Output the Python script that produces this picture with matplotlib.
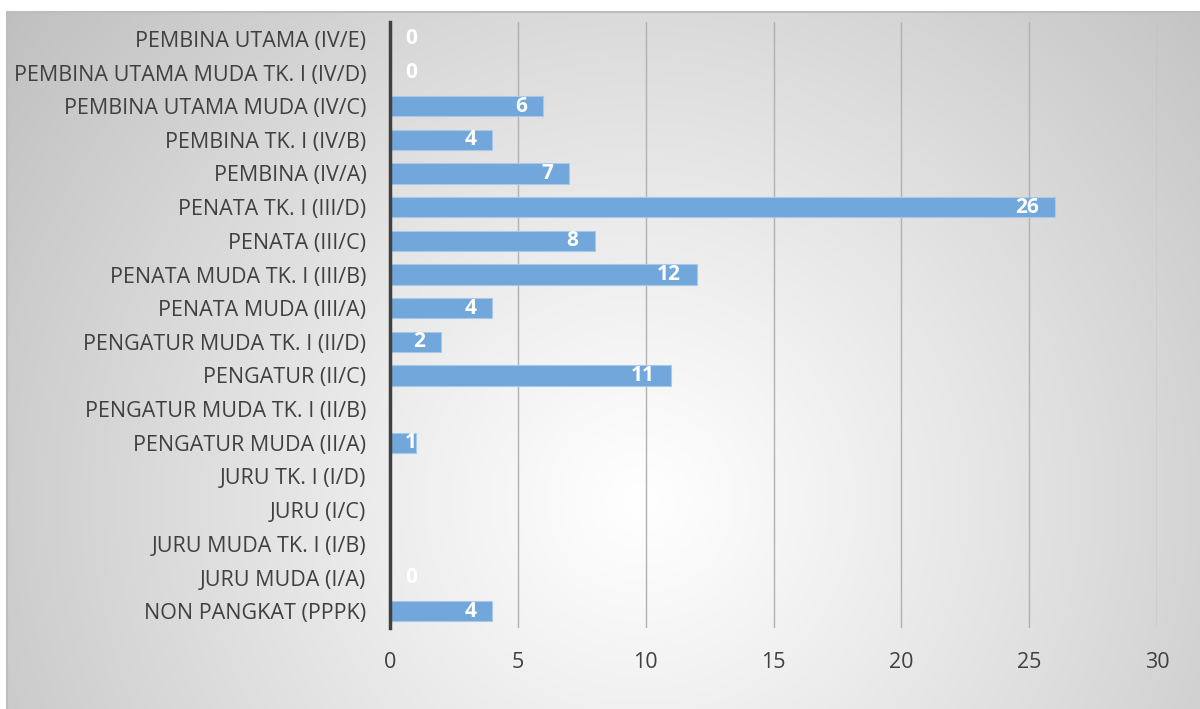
import numpy as np
import matplotlib
matplotlib.use("Agg")
import matplotlib.pyplot as plt
from matplotlib.lines import Line2D

categories = [
    "PEMBINA UTAMA (IV/E)",
    "PEMBINA UTAMA MUDA TK. I (IV/D)",
    "PEMBINA UTAMA MUDA (IV/C)",
    "PEMBINA TK. I (IV/B)",
    "PEMBINA (IV/A)",
    "PENATA TK. I (III/D)",
    "PENATA (III/C)",
    "PENATA MUDA TK. I (III/B)",
    "PENATA MUDA (III/A)",
    "PENGATUR MUDA TK. I (II/D)",
    "PENGATUR (II/C)",
    "PENGATUR MUDA TK. I (II/B)",
    "PENGATUR MUDA (II/A)",
    "JURU TK. I (I/D)",
    "JURU (I/C)",
    "JURU MUDA TK. I (I/B)",
    "JURU MUDA (I/A)",
    "NON PANGKAT (PPPK)",
]
values = [0, 0, 6, 4, 7, 26, 8, 12, 4, 2, 11, None, 1, None, None, None, 0, 4]
x_ticks = [0, 5, 10, 15, 20, 25, 30]

W, H, DPI = 1200, 709, 100
fig = plt.figure(figsize=(W / DPI, H / DPI), dpi=DPI)
fig.patch.set_facecolor("white")

# background panel with radial gradient
bg = fig.add_axes([0, 0, 1, 1], zorder=0)
bg.set_xlim(0, W)
bg.set_ylim(H, 0)
bg.axis("off")
yy, xx = np.mgrid[0:H, 0:W]
cx, cy = 640, 500
r = np.sqrt((xx - cx) ** 2 + (yy - cy) ** 2)
g = 1 - 0.25 * np.clip(r / 800, 0, 1) ** 1.1
img = np.dstack([g, g, g])
left_px, top_px = 7, 12
img[:top_px, :, :] = 1
img[:, :left_px, :] = 1
bg.imshow(img, extent=(0, W, H, 0), interpolation="bilinear", aspect="auto")
bg.add_line(Line2D([left_px, W], [top_px, top_px], color="#bdbdbd", lw=1.5))
bg.add_line(Line2D([left_px, left_px], [top_px, H], color="#bdbdbd", lw=1.5))

ax = fig.add_axes([390 / W, 1 - 628 / H, (1157 - 390) / W, (628 - 22) / H], zorder=1)
ax.patch.set_alpha(0)

n = len(categories)
ypos = np.arange(n)
vals = np.array([np.nan if v is None else v for v in values], dtype=float)
ax.barh(ypos, np.nan_to_num(vals), height=0.6, color="#71a7da",
        edgecolor="#a9c9ea", linewidth=0.8, zorder=3)

font = "Open Sans"
for y, v in zip(ypos, values):
    if v is None:
        continue
    if v <= 1:
        ax.annotate(str(v), (0, y), xytext=(15, 0), textcoords="offset pixels",
                    ha="left", va="center", color="white", fontsize=15,
                    fontweight="bold", family=font, zorder=4)
    else:
        ax.annotate(str(v), (v, y), xytext=(-16, 0), textcoords="offset pixels",
                    ha="right", va="center", color="white", fontsize=15,
                    fontweight="bold", family=font, zorder=4)

ax.set_xlim(0, 30)
ax.set_ylim(n - 0.5, -0.5)
ax.set_xticks(x_ticks)
ax.set_xticklabels([str(t) for t in x_ticks], fontsize=15.5, color="#404040", family=font)
ax.set_yticks(ypos)
ax.set_yticklabels(categories, fontsize=15.5, color="#404040", family=font)
ax.tick_params(axis="both", length=0)
ax.tick_params(axis="x", pad=17)
ax.tick_params(axis="y", pad=17)
ax.grid(axis="x", color="#b0b0b0", linewidth=1, zorder=1)
ax.set_axisbelow(True)
for s in ["top", "right", "bottom"]:
    ax.spines[s].set_visible(False)
ax.spines["left"].set_color("#404040")
ax.spines["left"].set_linewidth(2.5)
ax.spines["left"].set_zorder(5)

fig.savefig("out.png", dpi=DPI)
